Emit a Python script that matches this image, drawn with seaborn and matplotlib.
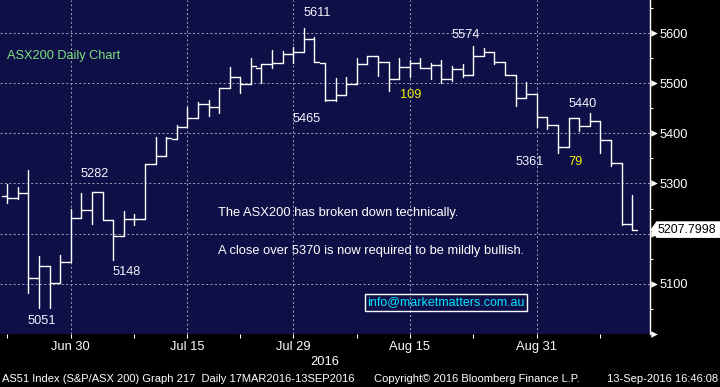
import numpy as np
import pandas as pd
import matplotlib
matplotlib.use("Agg")
import matplotlib.pyplot as plt
import matplotlib.transforms as mtransforms
from matplotlib.patches import Polygon
import seaborn as sns

# ---------------- data ----------------
dates = pd.bdate_range("2016-06-22", "2016-09-13")
opens = [5275, 5270, 5280, 5112, 5136, 5102, 5143, 5232, 5247, 5282,
         5228, 5195, 5229, 5230, 5338, 5355, 5389, 5412, 5430, 5458,
         5452, 5490, 5513, 5499, 5530, 5539, 5540, 5559, 5563, 5588,
         5540, 5467, 5477, 5498, 5539, 5555, 5543, 5508, 5532, 5540,
         5531, 5537, 5508, 5528, 5517, 5555, 5562, 5542, 5517, 5470,
         5479, 5433, 5416, 5372, 5430, 5414, 5425, 5387, 5340, 5220]
highs = [5299, 5292, 5327, 5155, 5136, 5157, 5250, 5280, 5282, 5282,
         5228, 5245, 5240, 5338, 5393, 5392, 5416, 5452, 5462, 5467,
         5490, 5532, 5513, 5551, 5539, 5567, 5565, 5572, 5611, 5592,
         5540, 5510, 5512, 5550, 5555, 5555, 5543, 5550, 5547, 5551,
         5540, 5547, 5535, 5539, 5574, 5570, 5562, 5542, 5517, 5503,
         5479, 5433, 5416, 5431, 5430, 5440, 5425, 5387, 5340, 5277]
lows = [5261, 5268, 5082, 5051, 5051, 5102, 5143, 5232, 5220, 5228,
        5148, 5195, 5218, 5229, 5338, 5355, 5389, 5412, 5430, 5435,
        5441, 5490, 5480, 5499, 5500, 5531, 5540, 5540, 5563, 5542,
        5465, 5465, 5477, 5498, 5539, 5515, 5485, 5508, 5512, 5531,
        5509, 5501, 5505, 5512, 5517, 5555, 5539, 5517, 5455, 5470,
        5413, 5408, 5361, 5372, 5405, 5414, 5360, 5335, 5217, 5208]
closes = [5270, 5280, 5112, 5136, 5102, 5143, 5232, 5247, 5282, 5228,
          5195, 5229, 5229, 5338, 5355, 5390, 5412, 5430, 5458, 5452,
          5490, 5512, 5499, 5535, 5539, 5540, 5559, 5563, 5588, 5542,
          5467, 5477, 5498, 5539, 5555, 5543, 5508, 5532, 5540, 5531,
          5537, 5508, 5528, 5517, 5555, 5562, 5542, 5517, 5470, 5479,
          5433, 5416, 5372, 5430, 5414, 5425, 5387, 5340, 5220, 5207.7998]

major_dates = ["2016-06-30", "2016-07-15", "2016-07-29", "2016-08-15", "2016-08-31"]
minor_dates = ["2016-06-22", "2016-07-08", "2016-07-22", "2016-08-08", "2016-08-23", "2016-09-08"]
y_major = [5000, 5100, 5200, 5300, 5400, 5500, 5600]
y_minor = [5050, 5150, 5250, 5350, 5450, 5550, 5650]
y_hidden = [5000, 5200]

note_texts = ["5611", "5465", "109", "5574", "5440", "5361", "79", "5282", "5148", "5051"]
note_dates = ["2016-08-02", "2016-08-01", "2016-08-15", "2016-08-22", "2016-09-06",
              "2016-08-31", "2016-09-05", "2016-07-04", "2016-07-07", "2016-06-27"]
note_dx = [0.3, 0.3, 0.1, 0.3, 0.3, -0.7, 0.66, 0.3, 0.3, 0.3]
note_vals = [5641, 5429, 5477, 5597, 5459, 5343, 5343, 5319, 5123, 5025]
note_yellow = [False, False, True, False, False, False, True, False, False, False]

title = "ASX200 Daily Chart"
comment1 = "The ASX200 has broken down technically."
comment2 = "A close over 5370 is now required to be mildly bullish."
email = "info@marketmatters.com.au"
footer_left = "AS51 Index (S&P/ASX 200) Graph 217  Daily 17MAR2016-13SEP2016"
footer_mid = "Copyright\u00a9 2016 Bloomberg Finance L.P."
footer_right = "13-Sep-2016 16:46:08"

# ---------------- style ----------------
NAVY = "#0f0f48"
GRID = "#9696b0"
sns.set_theme(style="dark")
plt.rcParams["font.family"] = ["Liberation Sans", "DejaVu Sans"]

W, H = 720, 387
fig = plt.figure(figsize=(W / 100, H / 100), dpi=100, facecolor="black")
ax_h = 334.3
ax_w = 650
ax = fig.add_axes([0, 1 - ax_h / H, ax_w / W, ax_h / H])
ax.set_facecolor(NAVY)

pos = np.arange(len(dates))
date_idx = {d: i for i, d in enumerate(dates)}
TICK = 0.47

# high-low verticals
hl = pd.DataFrame({
    "x": np.repeat(pos, 2).astype(float),
    "price": np.column_stack([lows, highs]).ravel(),
    "bar": np.repeat(pos, 2),
})
sns.lineplot(data=hl, x="x", y="price", units="bar", estimator=None, sort=False,
             color="white", lw=1.0, legend=False, ax=ax)
# open ticks
op = pd.DataFrame({
    "x": np.column_stack([pos - TICK, pos]).ravel().astype(float),
    "price": np.repeat(opens, 2),
    "bar": np.repeat(pos, 2),
})
sns.lineplot(data=op, x="x", y="price", units="bar", estimator=None, sort=False,
             color="white", lw=1.0, legend=False, ax=ax)
# close ticks
cl = pd.DataFrame({
    "x": np.column_stack([pos, pos + TICK]).ravel().astype(float),
    "price": np.repeat(closes, 2),
    "bar": np.repeat(pos, 2),
})
sns.lineplot(data=cl, x="x", y="price", units="bar", estimator=None, sort=False,
             color="white", lw=1.0, legend=False, ax=ax)

ax.set_xlim(-0.69, 60.69)
ax.set_ylim(4998.6, 5666.7)
ax.set_xlabel("")
ax.set_ylabel("")

for s in ["left", "top", "bottom"]:
    ax.spines[s].set_visible(False)
ax.spines["right"].set_visible(True)
ax.spines["right"].set_color("white")
ax.spines["right"].set_linewidth(1.0)

# x axis
maj_pos = [date_idx[pd.Timestamp(d)] for d in major_dates]
min_pos = [date_idx[pd.Timestamp(d)] for d in minor_dates]
ax.set_xticks(maj_pos)
ax.set_xticklabels([pd.Timestamp(d).strftime("%b %d").replace(" 0", " ") for d in major_dates])
ax.set_xticks(min_pos, minor=True)
ax.tick_params(axis="x", which="both", bottom=True, direction="out", length=3,
               width=0.8, color="white", labelcolor="white", labelsize=9.3, pad=1.5)

# y axis (right)
ax.yaxis.tick_right()
ax.set_yticks(y_major)
ax.set_yticklabels(["" if v in y_hidden else str(v) for v in y_major])
ax.set_yticks(y_minor, minor=True)
ax.tick_params(axis="y", which="major", right=True, left=False, length=0, pad=6.8,
               labelcolor="white", labelsize=9.2)
ax.tick_params(axis="y", which="minor", right=True, left=False, length=2.5, width=0.8,
               color="white", direction="out")

ax.grid(True, which="major", axis="both", color=GRID, linestyle=(0, (2, 2.2)), lw=0.75)
ax.set_axisbelow(True)

# triangle markers on the right axis
bt = mtransforms.blended_transform_factory(ax.transAxes, ax.transData)
ax.scatter([1.0055] * len(y_major), y_major, marker=">", s=22, color="white",
           transform=bt, clip_on=False, zorder=5, linewidths=0)

# annotations
for t, d, dx, v, yel in zip(note_texts, note_dates, note_dx, note_vals, note_yellow):
    ax.text(date_idx[pd.Timestamp(d)] + dx, v, t, ha="center", va="center",
            fontsize=9.2, color="#f2f200" if yel else "#f4f4ff")

ax.text(0.0108, 0.8325, title, transform=ax.transAxes, ha="left", va="center",
        fontsize=9.2, color="#7de07d")
ax.text(0.3354, 0.3628, comment1, transform=ax.transAxes, ha="left", va="center",
        fontsize=9.3, color="white")
ax.text(0.3354, 0.2492, comment2, transform=ax.transAxes, ha="left", va="center",
        fontsize=9.3, color="white")
ax.text(0.5646, 0.0951, email, transform=ax.transAxes, ha="left", va="center",
        fontsize=9.0, color="#00e6ff",
        bbox=dict(boxstyle="square,pad=0.18", fc="none", ec="white", lw=1.0))

# last price flag
last = closes[-1]
bf = mtransforms.blended_transform_factory(fig.transFigure, ax.transData)
half = 8.3 * (5666.7 - 4998.6) / ax_h
flag = Polygon([(650.5 / W, last), (656.5 / W, last + half), (1.0, last + half),
                (1.0, last - half), (656.5 / W, last - half)],
               closed=True, transform=bf, facecolor="white", edgecolor="none",
               clip_on=False, zorder=10)
fig.add_artist(flag)
fig.text(658 / W, last, f"{last:.4f}", transform=bf, ha="left", va="center",
         fontsize=8.9, color="black", zorder=11)

# year and footer
fig.text(325 / W, 1 - 362 / H, "2016", ha="center", va="center", color="white", fontsize=9.3)
fig.text(2 / W, 1 - 379 / H, footer_left, ha="left", va="center", color="white",
         fontsize=8.0)
fig.text(374 / W, 1 - 379 / H, footer_mid, ha="left", va="center", color="white",
         fontsize=8.0)
fig.text(718 / W, 1 - 379 / H, footer_right, ha="right", va="center", color="white",
         fontsize=8.0)

fig.savefig("out.png", dpi=100, facecolor="black")
